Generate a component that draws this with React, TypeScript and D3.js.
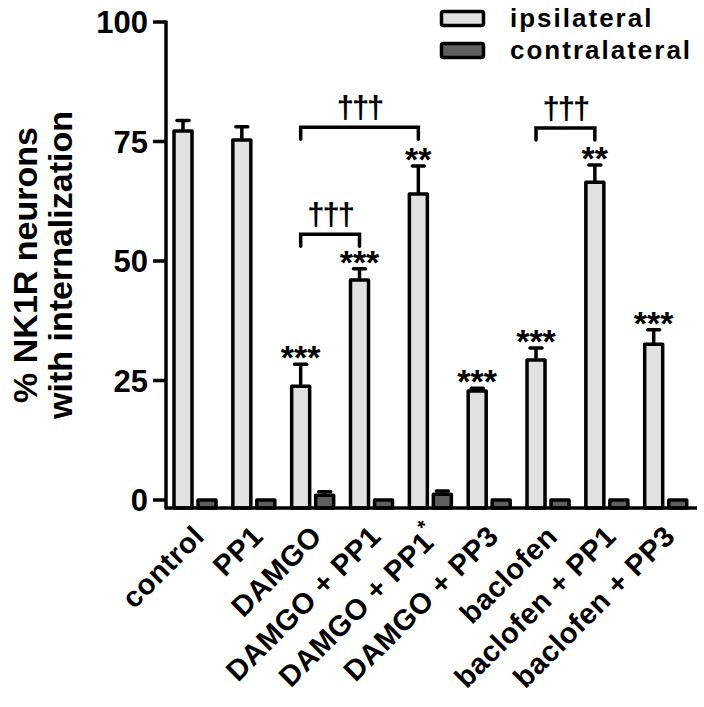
import React from 'react';
import * as d3 from 'd3';

const categories = [
  'control',
  'PP1',
  'DAMGO',
  'DAMGO + PP1',
  'DAMGO + PP1*',
  'DAMGO + PP3',
  'baclofen',
  'baclofen + PP1',
  'baclofen + PP3',
];
const series = ['ipsilateral', 'contralateral'];

const ipsiMeans = [77.2, 75.3, 23.8, 46.0, 64.0, 22.8, 29.3, 66.5, 32.6];
const ipsiSem = [2.2, 2.8, 4.6, 2.4, 5.9, 0.6, 2.5, 3.6, 3.0];
const contraMeans = [0, 0, 1.0, 0, 1.2, 0, 0, 0, 0];
const contraSem = [0, 0, 0.7, 0, 0.7, 0, 0, 0, 0];
const stars = ['', '', '***', '***', '**', '***', '***', '**', '***'];

const brackets = [
  { from: 'DAMGO', to: 'DAMGO + PP1*', y: 78, label: '†††' },
  { from: 'DAMGO', to: 'DAMGO + PP1', y: 55.6, label: '†††' },
  { from: 'baclofen', to: 'baclofen + PP1', y: 77.8, label: '†††' },
];

const yTicks = [0, 25, 50, 75, 100];
const fills = ['#e1e1e1', '#5f5f5f'];

const W = 704;
const H = 707;
const FONT = '"Liberation Sans", Arial, Helvetica, sans-serif';

export default function App() {
  const y = d3.scaleLinear().domain([0, 100]).range([500, 22]);
  const axisX = 166;
  const baseY = 508;

  const x0 = d3.scaleBand<string>()
    .domain(categories)
    .range([axisX, 694.7])
    .paddingInner(0.286)
    .paddingOuter(0.136);
  const x1 = d3.scaleBand<string>()
    .domain(series)
    .range([0, x0.bandwidth()])
    .paddingInner(0.25);

  const bw = x1.bandwidth();
  const ipsiCenter = (c: string) => (x0(c) ?? 0) + (x1('ipsilateral') ?? 0) + bw / 2;

  const bars = categories.flatMap((c, i) => [
    { c, s: 'ipsilateral', v: ipsiMeans[i], e: ipsiSem[i], fill: fills[0] },
    { c, s: 'contralateral', v: contraMeans[i], e: contraSem[i], fill: fills[1] },
  ]);

  return (
    <svg
      width={W}
      height={H}
      style={{ position: 'absolute', left: 0, top: 0, background: '#fff' }}
      fontFamily={FONT}
      fontWeight="bold"
    >
      {/* bars */}
      {bars.map((b, k) => {
        const bx = (x0(b.c) ?? 0) + (x1(b.s) ?? 0);
        const top = y(b.v);
        const cx = bx + bw / 2;
        return (
          <g key={k}>
            {b.e > 0 && (
              <g stroke="#000" strokeWidth={3.5}>
                <line x1={cx} x2={cx} y1={top} y2={y(b.v + b.e)} />
                <line x1={cx - 6} x2={cx + 6} y1={y(b.v + b.e)} y2={y(b.v + b.e)} strokeLinecap="round" />
              </g>
            )}
            <rect
              x={bx}
              y={top}
              width={bw}
              height={baseY - top}
              fill={b.fill}
              stroke="#000"
              strokeWidth={3.5}
              strokeLinejoin="round"
            />
          </g>
        );
      })}

      {/* significance stars */}
      {categories.map((c, i) =>
        stars[i] ? (
          <text
            key={c}
            x={ipsiCenter(c)}
            y={y(ipsiMeans[i] + ipsiSem[i]) + 5}
            textAnchor="middle"
            fontSize={34}
          >
            {stars[i]}
          </text>
        ) : null
      )}

      {/* comparison brackets */}
      {brackets.map((br, i) => {
        const xa = ipsiCenter(br.from);
        const xb = ipsiCenter(br.to);
        const yy = y(br.y);
        return (
          <g key={i}>
            <path
              d={`M${xa},${yy + 12}V${yy}H${xb}V${yy + 12}`}
              fill="none"
              stroke="#000"
              strokeWidth={3.5}
              strokeLinecap="round"
            />
            <text x={(xa + xb) / 2} y={yy - 9} textAnchor="middle" fontSize={31} letterSpacing={-2}>
              {br.label}
            </text>
          </g>
        );
      })}

      {/* axes */}
      <line x1={axisX} x2={axisX} y1={y(100) - 1.5} y2={baseY} stroke="#000" strokeWidth={3.5} />
      <line x1={axisX - 1.5} x2={697} y1={baseY} y2={baseY} stroke="#000" strokeWidth={3.5} />
      {yTicks.map((t) => (
        <g key={t}>
          <line x1={axisX - 13} x2={axisX} y1={y(t)} y2={y(t)} stroke="#000" strokeWidth={3.5} />
          <text x={axisX - 18} y={y(t)} dy="0.36em" textAnchor="end" fontSize={31}>
            {t}
          </text>
        </g>
      ))}

      {/* y title */}
      <g transform={`translate(37,${(y(0) + y(100)) / 2 + 4}) rotate(-90)`} fontSize={34} textAnchor="middle">
        <text x={0} y={0}>% NK1R neurons</text>
        <text x={0} y={35}>with internalization</text>
      </g>

      {/* x labels */}
      {categories.map((c) => {
        const cx = (x0(c) ?? 0) + x0.bandwidth() / 2;
        const star = c.endsWith('*');
        const label = star ? c.slice(0, -1) : c;
        return (
          <text
            key={c}
            transform={`translate(${cx + 11},${538}) rotate(-45)`}
            textAnchor="end"
            fontSize={29}
            letterSpacing={0.5}
          >
            {label}
            {star && (
              <tspan fontSize={20} dy={-14}>
                *
              </tspan>
            )}
          </text>
        );
      })}

      {/* legend */}
      {series.map((s, i) => (
        <g key={s} transform={`translate(441.5,${11.5 + i * 32})`}>
          <rect width={42} height={14} fill={fills[i]} stroke="#000" strokeWidth={3.5} rx={2} />
          <text x={68.5} y={15.5} fontSize={26} letterSpacing={2}>
            {s}
          </text>
        </g>
      ))}
    </svg>
  );
}
